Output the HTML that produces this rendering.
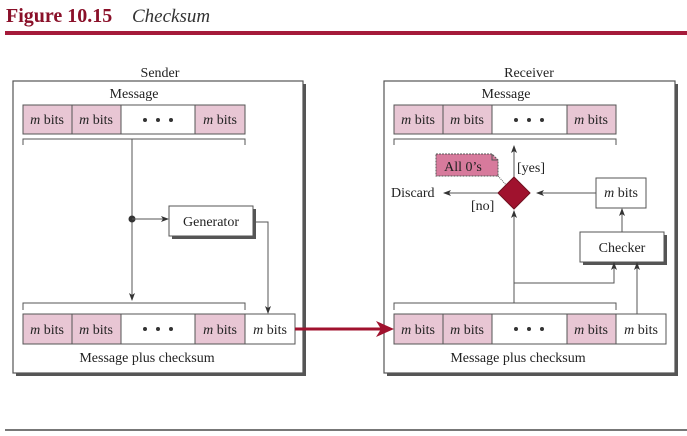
<!DOCTYPE html>
<html><head><meta charset="utf-8"><style>
html,body{margin:0;padding:0;background:#fff;}
svg{display:block;}
text{font-family:"Liberation Serif",serif;fill:#222;}
</style></head><body>
<svg width="687" height="436" viewBox="0 0 687 436" xmlns="http://www.w3.org/2000/svg">
<defs>
<marker id="a" markerWidth="8" markerHeight="8" refX="7" refY="4" orient="auto" markerUnits="userSpaceOnUse">
<path d="M0,1 L8,4 L0,7 L2,4 Z" fill="#333"/></marker>
</defs>
<text x="6" y="22" font-size="20" font-weight="bold" style="fill:#8a1029">Figure 10.15</text>
<text x="132" y="22" font-size="19" font-style="italic" style="fill:#333">Checksum</text>
<rect x="5" y="31" width="682" height="4" fill="#a51a3a"/>
<rect x="5" y="429" width="682" height="2" fill="#777"/>

<!-- Sender -->
<text x="160" y="77" font-size="14" text-anchor="middle">Sender</text>
<rect x="16" y="84" width="290" height="292" fill="#555"/>
<rect x="13" y="81" width="290" height="292" fill="#fff" stroke="#555" stroke-width="1.2"/>
<text x="134" y="98" font-size="14" text-anchor="middle">Message</text>
<g stroke="#555" stroke-width="1">
<rect x="23" y="105" width="49" height="29" fill="#e8c6d4"/>
<rect x="72" y="105" width="49" height="29" fill="#e8c6d4"/>
<rect x="121" y="105" width="74" height="29" fill="#fff"/>
<rect x="195" y="105" width="50" height="29" fill="#e8c6d4"/>
</g>
<g font-size="14" text-anchor="middle">
<text x="47" y="124"><tspan font-style="italic">m</tspan> bits</text>
<text x="96" y="124"><tspan font-style="italic">m</tspan> bits</text>
<text x="220" y="124"><tspan font-style="italic">m</tspan> bits</text>
</g>
<g fill="#333"><circle cx="145" cy="120" r="2"/><circle cx="158" cy="120" r="2"/><circle cx="171" cy="120" r="2"/></g>
<path d="M23,145 V139 H245 V145" fill="none" stroke="#555"/>
<line x1="132" y1="139" x2="132" y2="300" stroke="#555" marker-end="url(#a)"/>
<circle cx="132" cy="219" r="3.5" fill="#333"/>
<line x1="132" y1="219" x2="168" y2="219" stroke="#555" marker-end="url(#a)"/>
<rect x="172" y="209" width="84" height="30" fill="#555"/>
<rect x="169" y="206" width="84" height="30" fill="#fff" stroke="#555"/>
<text x="211" y="226" font-size="14" text-anchor="middle">Generator</text>
<polyline points="253,222 268,222 268,313" fill="none" stroke="#555" marker-end="url(#a)"/>
<path d="M23,310 V303 H245 V310" fill="none" stroke="#555"/>
<g stroke="#555" stroke-width="1">
<rect x="23" y="314" width="49" height="30" fill="#e8c6d4"/>
<rect x="72" y="314" width="49" height="30" fill="#e8c6d4"/>
<rect x="121" y="314" width="74" height="30" fill="#fff"/>
<rect x="195" y="314" width="50" height="30" fill="#e8c6d4"/>
<rect x="245" y="314" width="50" height="30" fill="#fff"/>
</g>
<g font-size="14" text-anchor="middle">
<text x="47" y="334"><tspan font-style="italic">m</tspan> bits</text>
<text x="96" y="334"><tspan font-style="italic">m</tspan> bits</text>
<text x="220" y="334"><tspan font-style="italic">m</tspan> bits</text>
<text x="270" y="334"><tspan font-style="italic">m</tspan> bits</text>
<text x="147" y="362">Message plus checksum</text>
</g>
<g fill="#333"><circle cx="145" cy="329" r="2"/><circle cx="158" cy="329" r="2"/><circle cx="171" cy="329" r="2"/></g>

<!-- Receiver -->
<text x="529" y="77" font-size="14" text-anchor="middle">Receiver</text>
<rect x="387" y="84" width="291" height="292" fill="#555"/>
<rect x="384" y="81" width="291" height="292" fill="#fff" stroke="#555" stroke-width="1.2"/>
<text x="506" y="98" font-size="14" text-anchor="middle">Message</text>
<g stroke="#555" stroke-width="1">
<rect x="394" y="105" width="49" height="29" fill="#e8c6d4"/>
<rect x="443" y="105" width="49" height="29" fill="#e8c6d4"/>
<rect x="492" y="105" width="75" height="29" fill="#fff"/>
<rect x="567" y="105" width="49" height="29" fill="#e8c6d4"/>
</g>
<g font-size="14" text-anchor="middle">
<text x="418" y="124"><tspan font-style="italic">m</tspan> bits</text>
<text x="467" y="124"><tspan font-style="italic">m</tspan> bits</text>
<text x="591" y="124"><tspan font-style="italic">m</tspan> bits</text>
</g>
<g fill="#333"><circle cx="516" cy="120" r="2"/><circle cx="529" cy="120" r="2"/><circle cx="542" cy="120" r="2"/></g>
<path d="M394,145 V139 H616 V145" fill="none" stroke="#555"/>
<line x1="514" y1="177" x2="514" y2="146" stroke="#555" marker-end="url(#a)"/>
<path d="M436,154 H492 L498,160 V176 H436 Z" fill="#d77a9c" stroke="#555" stroke-dasharray="2,1"/>
<path d="M492,154 V160 H498" fill="none" stroke="#555"/>
<text x="463" y="171" font-size="14" text-anchor="middle">All 0’s</text>
<line x1="498" y1="176" x2="508" y2="187" stroke="#555" stroke-dasharray="1,1"/>
<text x="517" y="172" font-size="14">[yes]</text>
<line x1="498" y1="193" x2="444" y2="193" stroke="#555" marker-end="url(#a)"/>
<text x="391" y="197" font-size="14">Discard</text>
<text x="471" y="210" font-size="14">[no]</text>
<path d="M514,177 L530,193 L514,209 L498,193 Z" fill="#a0122e" stroke="#701020"/>
<line x1="596" y1="193" x2="537" y2="193" stroke="#555" marker-end="url(#a)"/>
<rect x="596" y="178" width="50" height="30" fill="#fff" stroke="#555"/>
<text x="621" y="197" font-size="14" text-anchor="middle"><tspan font-style="italic">m</tspan> bits</text>
<line x1="622" y1="232" x2="622" y2="209" stroke="#555" marker-end="url(#a)"/>
<rect x="583" y="235" width="84" height="30" fill="#555"/>
<rect x="580" y="232" width="84" height="30" fill="#fff" stroke="#555"/>
<text x="622" y="252" font-size="14" text-anchor="middle">Checker</text>
<line x1="514" y1="303" x2="514" y2="211" stroke="#555" marker-end="url(#a)"/>
<polyline points="514,283 614,283 614,263" fill="none" stroke="#555" marker-end="url(#a)"/>
<line x1="637" y1="314" x2="637" y2="263" stroke="#555" marker-end="url(#a)"/>
<path d="M394,310 V303 H616 V310" fill="none" stroke="#555"/>
<g stroke="#555" stroke-width="1">
<rect x="394" y="314" width="49" height="30" fill="#e8c6d4"/>
<rect x="443" y="314" width="49" height="30" fill="#e8c6d4"/>
<rect x="492" y="314" width="75" height="30" fill="#fff"/>
<rect x="567" y="314" width="49" height="30" fill="#e8c6d4"/>
<rect x="616" y="314" width="50" height="30" fill="#fff"/>
</g>
<g font-size="14" text-anchor="middle">
<text x="418" y="334"><tspan font-style="italic">m</tspan> bits</text>
<text x="467" y="334"><tspan font-style="italic">m</tspan> bits</text>
<text x="591" y="334"><tspan font-style="italic">m</tspan> bits</text>
<text x="641" y="334"><tspan font-style="italic">m</tspan> bits</text>
<text x="518" y="362">Message plus checksum</text>
</g>
<g fill="#333"><circle cx="516" cy="329" r="2"/><circle cx="529" cy="329" r="2"/><circle cx="542" cy="329" r="2"/></g>

<!-- red arrow on top -->
<line x1="295" y1="329" x2="382" y2="329" stroke="#a0122e" stroke-width="3"/>
<path d="M394,329 L376,321 L381,329 L376,337 Z" fill="#a0122e"/>
</svg>
</body></html>
